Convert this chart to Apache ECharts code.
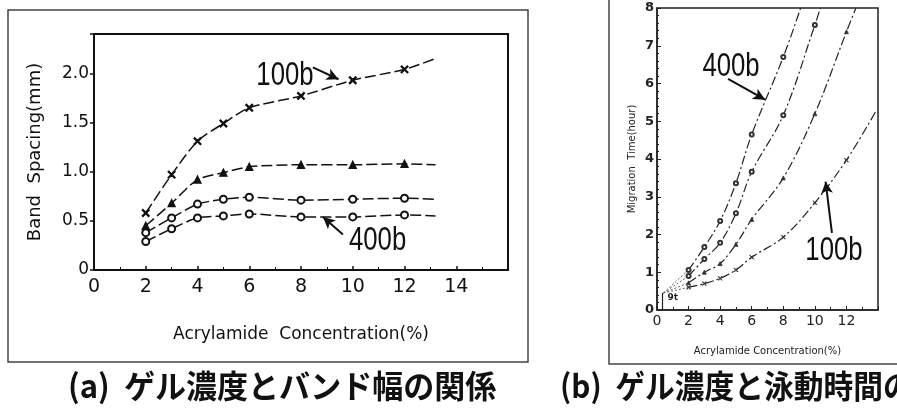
<!DOCTYPE html>
<html><head><meta charset="utf-8">
<script src="https://cdn.jsdelivr.net/npm/echarts@6/dist/echarts.min.js"></script>
<style>html,body{margin:0;padding:0;background:#fff}#c{width:897px;height:414px}</style>
</head><body><div id="c"></div>
<script>
// ---- Data (a): Band spacing vs acrylamide concentration ----
const concA = [2, 3, 4, 5, 6, 8, 10, 12];
const spacing100b = [0.58, 0.97, 1.31, 1.49, 1.65, 1.77, 1.93, 2.04];
const spacingTri  = [0.45, 0.68, 0.92, 0.99, 1.05, 1.07, 1.07, 1.08];
const spacingCirc = [0.38, 0.53, 0.67, 0.72, 0.74, 0.71, 0.72, 0.73];
const spacing400b = [0.29, 0.42, 0.53, 0.55, 0.57, 0.54, 0.54, 0.56];
const tailA = { x: 13.2, y100b: 2.15, yTri: 1.07, yCirc: 0.72, y400b: 0.55 };
const xTicksA = [0, 2, 4, 6, 8, 10, 12, 14];
const yTicksA = ['0', '0.5', '1.0', '1.5', '2.0'];

// ---- Data (b): Migration time vs acrylamide concentration ----
const conc400b = [2, 3, 4, 5, 6, 8];
const time400b = [1.06, 1.67, 2.36, 3.36, 4.65, 6.7];
const end400b = [9.1, 8];
const conc2 = [2, 3, 4, 5, 6, 8, 10];
const time2 = [0.9, 1.35, 1.78, 2.56, 3.66, 5.16, 7.55];
const end2 = [10.35, 8];
const conc3 = [2, 3, 4, 5, 6, 8, 10, 12];
const time3 = [0.72, 1.0, 1.23, 1.74, 2.4, 3.5, 5.2, 7.37];
const end3 = [12.6, 8];
const conc100b = [2, 3, 4, 5, 6, 8, 10, 12];
const time100b = [0.6, 0.7, 0.84, 1.06, 1.4, 1.93, 2.84, 3.97];
const end100b = [13.9, 5.29];
const startB = [0.4, 0.45];
const xTicksB = [0, 2, 4, 6, 8, 10, 12];

// annotation labels (data coordinates)
const notesA = [ { text: '100b', at: [7.38, 1.97] }, { text: '400b', at: [10.96, 0.3] } ];
const notesB = [ { text: '400b', at: [4.69, 6.44] }, { text: '100b', at: [11.21, 1.56] } ];

const crossPath = 'path://M0,1L1,0L5,4L9,0L10,1L6,5L10,9L9,10L5,6L1,10L0,9L4,5Z';
const FONT = 'DejaVu Sans';

function pairs(xs, ys) { return xs.map((x, i) => [x, ys[i]]); }
function withTail(xs, ys, tail) {
  const d = pairs(xs, ys);
  d.push({ value: tail, symbol: 'none' });
  return d;
}

const dashA = [11, 4];
function seriesA(name, ys, tailY, symbol, size) {
  return {
    name, type: 'line', xAxisIndex: 0, yAxisIndex: 0,
    data: withTail(concA, ys, [tailA.x, tailY]),
    symbol, symbolSize: size, showSymbol: true,
    itemStyle: { color: '#111', borderColor: '#111', borderWidth: 1.3 },
    lineStyle: { color: '#111', width: 1.5, type: dashA },
    smooth: 0.25, z: 3, silent: true, animation: false
  };
}
const dashB = [9, 3, 2, 3];
function seriesB(name, xs, ys, end, symbol, size) {
  return {
    name, type: 'line', xAxisIndex: 1, yAxisIndex: 1,
    data: withTail(xs, ys, end),
    symbol, symbolSize: size,
    itemStyle: { color: '#333', borderColor: '#333', borderWidth: 0.8 },
    lineStyle: { color: '#222', width: 1.2, type: dashB },
    smooth: 0.35, z: 3, silent: true, animation: false
  };
}
function startSeg(firstX, firstY) {
  return {
    type: 'line', xAxisIndex: 1, yAxisIndex: 1,
    data: [startB, [firstX, firstY]], symbol: 'none',
    lineStyle: { color: '#666', width: 1, type: [2, 2] }, silent: true, animation: false, z: 2
  };
}

const chart = echarts.init(document.getElementById('c'), null, { renderer: 'canvas' });
const baseGraphic = [
  { id: 'frameA', type: 'rect', shape: { x: 8, y: 10, width: 520, height: 352 }, style: { fill: 'none', stroke: '#444', lineWidth: 1.5 }, z: -1 },
  { id: 'frameB', type: 'rect', shape: { x: 609, y: -10, width: 320, height: 374 }, style: { fill: 'none', stroke: '#444', lineWidth: 1.5 }, z: -1 },
  { id: 'capA', type: 'text', x: 68, y: 386, scaleX: 0.97,
    style: { x: 0, y: 0, text: '(a)  ゲル濃度とバンド幅の関係', fill: '#111', textVerticalAlign: 'middle',
      font: 'bold 32px "Noto Sans CJK JP", sans-serif' } },
  { id: 'capB', type: 'text', x: 560, y: 386, scaleX: 0.93,
    style: { x: 0, y: 0, text: '(b)  ゲル濃度と泳動時間の関係', fill: '#111', textVerticalAlign: 'middle',
      font: 'bold 32px "Noto Sans CJK JP", sans-serif' } }
];
chart.setOption({
  animation: false,
  backgroundColor: '#fff',
  grid: [
    { left: 94, top: 34, width: 414, height: 236, show: true, borderColor: '#111', borderWidth: 2, backgroundColor: 'transparent' },
    { left: 657, top: 8, width: 221, height: 302, show: true, borderColor: '#222', borderWidth: 1.5, backgroundColor: 'transparent' }
  ],
  xAxis: [
    {
      gridIndex: 0, type: 'value', min: 0, max: 16, interval: 2,
      axisLine: { lineStyle: { color: '#111', width: 2 } },
      axisTick: { show: true, inside: true, length: 4, lineStyle: { color: '#111', width: 1.5 } },
      minorTick: { show: true, splitNumber: 2, length: 3, lineStyle: { color: '#111' } },
      splitLine: { show: false },
      axisLabel: { color: '#111', fontFamily: FONT, fontSize: 19, margin: 8,
        formatter: v => xTicksA.indexOf(v) >= 0 ? String(v) : '' },
      name: 'Acrylamide  Concentration(%)', nameLocation: 'middle', nameGap: 56,
      nameTextStyle: { color: '#111', fontFamily: FONT, fontSize: 17 }
    },
    {
      gridIndex: 1, type: 'value', min: 0, max: 14, interval: 2,
      axisLine: { lineStyle: { color: '#222', width: 1.5 } },
      axisTick: { show: true, inside: true, length: 4, lineStyle: { color: '#222' } },
      minorTick: { show: true, splitNumber: 2, length: 3, lineStyle: { color: '#222' } },
      splitLine: { show: false },
      axisLabel: { color: '#222', fontFamily: FONT, fontSize: 14, margin: 4,
        formatter: v => xTicksB.indexOf(v) >= 0 ? String(v) : '' },
      name: 'Acrylamide Concentration(%)', nameLocation: 'middle', nameGap: 36,
      nameTextStyle: { color: '#222', fontFamily: FONT, fontSize: 10 }
    }
  ],
  yAxis: [
    {
      gridIndex: 0, type: 'value', min: 0, max: 2.4, interval: 0.5,
      axisLine: { show: true, lineStyle: { color: '#111', width: 2 } },
      axisTick: { show: true, length: 4, lineStyle: { color: '#111', width: 1.5 } },
      splitLine: { show: false },
      axisLabel: { color: '#111', fontFamily: FONT, fontSize: 17, margin: 5,
        formatter: v => { const i = Math.round(v / 0.5); return (Math.abs(v - i * 0.5) < 1e-6 && i < yTicksA.length) ? yTicksA[i] : ''; } },
      name: 'Band  Spacing(mm)', nameLocation: 'middle', nameGap: 50,
      nameTextStyle: { color: '#111', fontFamily: FONT, fontSize: 18 }
    },
    {
      gridIndex: 1, type: 'value', min: 0, max: 8, interval: 1,
      axisLine: { show: true, lineStyle: { color: '#222', width: 1.5 } },
      axisTick: { show: true, inside: true, length: 4, lineStyle: { color: '#222' } },
      minorTick: { show: true, splitNumber: 5, length: 2, lineStyle: { color: '#222' } },
      splitLine: { show: false },
      axisLabel: { color: '#222', fontFamily: FONT, fontSize: 13, fontWeight: 'bold', margin: 3 },
      name: 'Migration  Time(hour)', nameLocation: 'middle', nameGap: 20,
      nameTextStyle: { color: '#222', fontFamily: FONT, fontSize: 10 }
    }
  ],
  series: [
    seriesA('100b', spacing100b, tailA.y100b, crossPath, 7),
    seriesA('tri', spacingTri, tailA.yTri, 'triangle', 7),
    seriesA('circ', spacingCirc, tailA.yCirc, 'emptyCircle', 7),
    seriesA('400b', spacing400b, tailA.y400b, 'emptyCircle', 7),
    {
      type: 'line', xAxisIndex: 0, yAxisIndex: 0, data: [], silent: true,
      markLine: { silent: true, symbol: ['none', 'arrow'], symbolSize: [9, 12], label: { show: false },
        lineStyle: { color: '#111', width: 2, type: 'solid' },
        data: [ [ { coord: [8.46, 2.06] }, { coord: [9.45, 1.94] } ], [ { coord: [9.62, 0.36] }, { coord: [8.85, 0.54] } ] ] }
    },
    startSeg(conc400b[0], time400b[0]),
    startSeg(conc2[0], time2[0]),
    startSeg(conc3[0], time3[0]),
    startSeg(conc100b[0], time100b[0]),
    seriesB('400b-b', conc400b, time400b, end400b, 'emptyCircle', 4),
    seriesB('c2', conc2, time2, end2, 'emptyCircle', 4),
    seriesB('c3', conc3, time3, end3, 'triangle', 4),
    seriesB('100b-b', conc100b, time100b, end100b, crossPath, 4),
    {
      type: 'line', xAxisIndex: 1, yAxisIndex: 1, data: [], silent: true,
      markPoint: { symbol: 'rect', symbolSize: 1, itemStyle: { color: 'transparent' },
        label: { show: true, position: 'inside', fontFamily: FONT, fontSize: 9, color: '#222', fontWeight: 'bold' },
        data: [ { coord: [1.0, 0.32], value: '9t' } ] },
      markLine: { silent: true, symbol: ['none', 'arrow'], symbolSize: [9, 12], label: { show: false },
        lineStyle: { color: '#111', width: 2, type: 'solid' },
        data: [ [ { coord: [4.5, 6.12] }, { coord: [6.85, 5.57] } ], [ { coord: [11.08, 2.04] }, { coord: [10.68, 3.4] } ],
                [ { coord: [0.35, 0.0], symbol: 'none', lineStyle: { width: 1.2, color: '#222' } }, { coord: [0.35, 0.45], symbol: 'none' } ] ] }
    }
  ],
  graphic: baseGraphic
});

// place the big annotation labels through the axes' own scales, condensed horizontally
function noteGraphic(note, gridIndex, k) {
  const p = chart.convertToPixel({ gridIndex: gridIndex }, note.at);
  return { id: 'note' + gridIndex + '_' + k, type: 'text', x: p[0], y: p[1], scaleX: 0.78,
    style: { x: 0, y: 0, text: note.text, fill: '#111', textAlign: 'center', textVerticalAlign: 'middle',
      font: '33px "Liberation Sans", sans-serif' }, z: 10 };
}
chart.setOption({ graphic: baseGraphic.concat(
  notesA.map((n, k) => noteGraphic(n, 0, k)),
  notesB.map((n, k) => noteGraphic(n, 1, k))
) });
</script></body></html>
